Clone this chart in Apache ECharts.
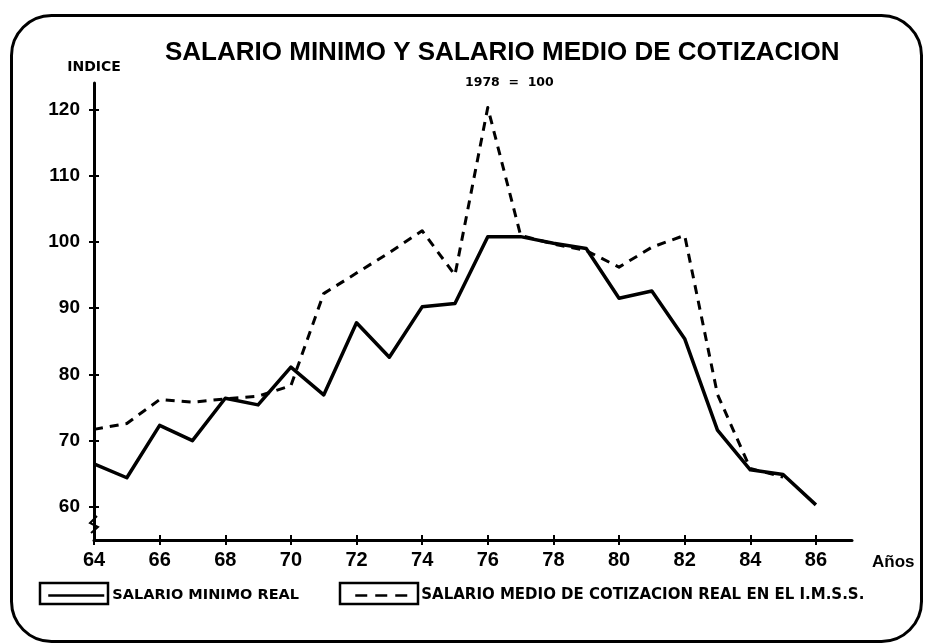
<!DOCTYPE html>
<html>
<head>
<meta charset="utf-8">
<script src="https://cdn.jsdelivr.net/npm/echarts@6/dist/echarts.min.js"></script>
<style>
html,body{margin:0;padding:0;background:#fff;}
#c{width:925px;height:643px;}
</style>
</head>
<body>
<div id="c"></div>
<script>
// ---- data ----
const years = [64,65,66,67,68,69,70,71,72,73,74,75,76,77,78,79,80,81,82,83,84,85,86];
const salarioMinimo = [66.5,64.4,72.3,70.0,76.4,75.4,81.1,76.9,87.8,82.6,90.2,90.7,100.8,100.8,99.8,99.0,91.5,92.6,85.4,71.6,65.6,64.9,60.3];
const salarioMedio = [71.7,72.6,76.2,75.8,76.3,76.7,78.3,92.2,95.3,98.4,101.7,95.0,120.3,101.0,99.7,98.7,96.2,99.2,101.0,77.0,65.8,64.5];
const xTicks = [64,66,68,70,72,74,76,78,80,82,84,86];
const yTicks = [60,70,80,90,100,110,120];
const seriesNames = ['SALARIO MINIMO REAL','SALARIO MEDIO DE COTIZACION REAL EN EL I.M.S.S.'];
const titleText = 'SALARIO MINIMO Y SALARIO MEDIO DE COTIZACION';
const subtitleText = '1978  =  100';

const pairs = (vals) => vals.map((v, i) => [years[i], v]);

const chart = echarts.init(document.getElementById('c'), null, {renderer: 'canvas'});
const LAB = 'Liberation Sans';
const DJ = 'DejaVu Sans';

const xBase = {
  type: 'value', min: 64, max: 87.1, interval: 2, gridIndex: 0,
  splitLine: {show: false}, axisLine: {onZero: false}
};
const yBase = {
  type: 'value', min: 55, max: 124, interval: 5, gridIndex: 0,
  splitLine: {show: false}, axisLine: {onZero: false}
};

chart.setOption({
  backgroundColor: '#fff',
  animation: false,
  title: [
    {text: titleText, left: 160, top: 35,
     textStyle: {fontFamily: LAB, fontWeight: 'bold', fontSize: 26, color: '#000'}},
    {text: subtitleText, left: 460, top: 71,
     textStyle: {fontFamily: DJ, fontWeight: 'bold', fontSize: 12.5, color: '#000'}}
  ],
  grid: {left: 94, top: 83, right: 73, bottom: 103, containLabel: false},
  xAxis: [
    Object.assign({}, xBase, {
      position: 'bottom',
      name: 'Años', nameLocation: 'end', nameGap: 20,
      nameTextStyle: {fontFamily: LAB, fontWeight: 'bold', fontSize: 17, color: '#000', verticalAlign: 'top', padding: [14,0,0,0]},
      axisLine: {show: true, onZero: false, lineStyle: {color: '#000', width: 3}},
      axisTick: {show: true, customValues: xTicks, length: 5, lineStyle: {color: '#000', width: 2}},
      axisLabel: {customValues: xTicks, margin: 10, fontFamily: LAB, fontWeight: 'bold', fontSize: 20, color: '#000'}
    }),
    Object.assign({}, xBase, {
      position: 'bottom',
      axisLine: {show: false, onZero: false},
      axisTick: {show: true, inside: true, customValues: xTicks, length: 5, lineStyle: {color: '#000', width: 2}},
      axisLabel: {show: false}
    })
  ],
  yAxis: [
    Object.assign({}, yBase, {
      position: 'left',
      name: 'INDICE', nameLocation: 'end', nameGap: 9,
      nameTextStyle: {fontFamily: DJ, fontWeight: 'bold', fontSize: 14, color: '#000', align: 'center'},
      axisLine: {show: true, onZero: false, lineStyle: {color: '#000', width: 3}},
      axisTick: {show: true, customValues: yTicks, length: 5, lineStyle: {color: '#000', width: 2}},
      axisLabel: {customValues: yTicks, margin: 14, fontFamily: LAB, fontWeight: 'bold', fontSize: 19, color: '#000'}
    }),
    Object.assign({}, yBase, {
      position: 'left',
      axisLine: {show: false, onZero: false},
      axisTick: {show: true, inside: true, customValues: yTicks, length: 5, lineStyle: {color: '#000', width: 2}},
      axisLabel: {show: false}
    })
  ],
  legend: [
    {data: [seriesNames[0]], left: 42, top: 583, itemWidth: 56, itemHeight: 18, selectedMode: false,
     itemStyle: {opacity: 0}, lineStyle: {width: 2.5},
     textStyle: {fontFamily: DJ, fontWeight: 'bold', fontSize: 14.5, color: '#000', padding: [0,0,0,3]}},
    {data: [seriesNames[1]], left: 349, top: 583, itemWidth: 58, itemHeight: 18, selectedMode: false,
     itemStyle: {opacity: 0}, lineStyle: {width: 2.5, type: [12, 8]},
     textStyle: {fontFamily: DJ, fontWeight: 'bold', fontSize: 15, color: '#000', padding: [0,0,0,3]}}
  ],
  series: [
    {name: seriesNames[0], type: 'line', xAxisIndex: 0, yAxisIndex: 0,
     data: pairs(salarioMinimo), symbol: 'none', z: 3,
     lineStyle: {color: '#000', width: 3.5, type: 'solid', join: 'round'}, itemStyle: {color: '#000'}},
    {name: seriesNames[1], type: 'line', xAxisIndex: 0, yAxisIndex: 0,
     data: pairs(salarioMedio), symbol: 'none', z: 2,
     lineStyle: {color: '#000', width: 3, type: [9, 7], join: 'round'}, itemStyle: {color: '#000'}}
  ],
  graphic: [
    {type: 'rect', left: 9, top: 13, shape: {x: 0, y: 0, width: 910, height: 626, r: 40},
     style: {fill: 'none', stroke: '#000', lineWidth: 3}, silent: true},
    {type: 'rect', shape: {x: 40, y: 583, width: 68, height: 21}, style: {fill: 'none', stroke: '#000', lineWidth: 2.5}, silent: true},
    {type: 'rect', shape: {x: 340, y: 583, width: 78, height: 21}, style: {fill: 'none', stroke: '#000', lineWidth: 2.5}, silent: true},
    {type: 'polyline', shape: {points: [[91,533],[98,527],[90,523],[97,516]]}, style: {fill: 'none', stroke: '#000', lineWidth: 2}, silent: true}
  ]
});
</script>
</body>
</html>
